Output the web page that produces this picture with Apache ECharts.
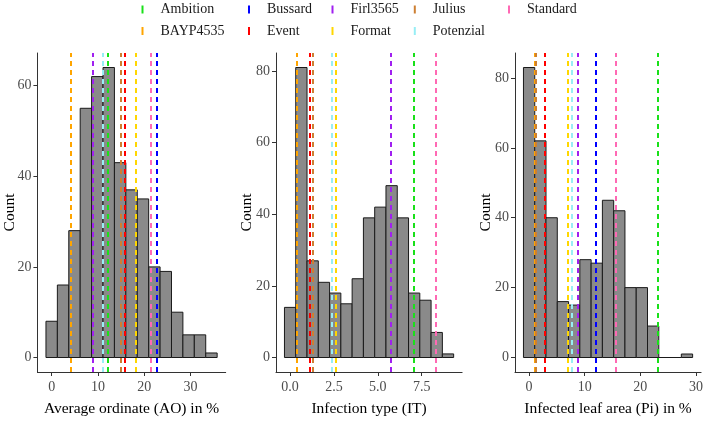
<!DOCTYPE html>
<html>
<head>
<meta charset="utf-8">
<script src="https://cdn.jsdelivr.net/npm/echarts@6/dist/echarts.min.js"></script>
<style>
html,body{margin:0;padding:0;background:#fff;}
#chart{width:706px;height:422px;}
</style>
</head>
<body>
<div id="chart"></div>
<script>
// ---- Data ----
const genotypes = ['Ambition','BAYP4535','Bussard','Event','Firl3565','Format','Julius','Potenzial','Standard'];
const genotypeColors = ['#19e019','#ffa500','#0000ff','#ff0000','#a020f0','#ffd700','#cd7f32','#97eef5','#ff69b4'];

// Panel 1: Average ordinate (AO) in %
const aoCenters = [0, 2.464, 4.929, 7.393, 9.857, 12.321, 14.786, 17.25, 19.714, 22.179, 24.643, 27.107, 29.571, 32.036, 34.5];
const aoCounts  = [8, 16, 28, 55, 62, 64, 43, 37, 35, 20, 19, 10, 5, 5, 1];
const aoBinWidth = 2.464;
const aoMeans = [12.1, 4.2, 22.7, 15.7, 8.8, 18.2, 14.9, 11.0, 21.3];
const aoTicks = [0, 10, 20, 30];

// Panel 2: Infection type (IT)
const itCenters = [0, 0.643, 1.286, 1.929, 2.571, 3.214, 3.857, 4.5, 5.143, 5.786, 6.429, 7.071, 7.714, 8.357, 9];
const itCounts  = [14, 81, 27, 21, 18, 15, 22, 39, 42, 48, 39, 18, 16, 7, 1];
const itBinWidth = 0.643;
const itMeans = [7.05, 0.38, 5.74, 1.14, 5.72, 2.6, 1.29, 2.39, 8.3];
const itTicks = [0, 2.5, 5, 7.5];

// Panel 3: Infected leaf area (Pi) in %
const piCenters = [0, 2.027, 4.054, 6.081, 8.108, 10.135, 12.162, 14.189, 16.216, 18.243, 20.27, 22.297, 24.324, 26.351, 28.378];
const piCounts  = [83, 62, 40, 16, 15, 28, 27, 45, 42, 20, 20, 9, 0, 0, 1];
const piBinWidth = 2.027;
const piMeans = [23.1, 1.05, 11.9, 2.9, 8.66, 7.0, 1.2, 7.6, 15.5];
const piTicks = [0, 10, 20, 30];

const countTicks1 = [0, 20, 40, 60];
const countTicks2 = [0, 20, 40, 60, 80];
const countTicks3 = [0, 20, 40, 60, 80];

const xTitles = ['Average ordinate (AO) in %', 'Infection type (IT)', 'Infected leaf area (Pi) in %'];

// ---- Layout ----
const FONT = 'Liberation Serif, Times New Roman, serif';
const panels = [
  {centers: aoCenters, counts: aoCounts, bw: aoBinWidth, means: aoMeans, xt: aoTicks, yt: countTicks1, left: 37.4, width: 188.3, dec: 0, ng: 19},
  {centers: itCenters, counts: itCounts, bw: itBinWidth, means: itMeans, xt: itTicks, yt: countTicks2, left: 276, width: 186.1, dec: 1, ng: 21},
  {centers: piCenters, counts: piCounts, bw: piBinWidth, means: piMeans, xt: piTicks, yt: countTicks3, left: 515, width: 188, dec: 0, ng: 21}
];
const TOP = 53, HEIGHT = 324;

const grids = [], xAxes = [], yAxes = [], series = [];
panels.forEach((p, i) => {
  const lo = p.centers[0] - p.bw / 2, hi = p.centers[p.centers.length - 1] + p.bw / 2;
  const ex = (hi - lo) * 0.05;
  const ymax = Math.max(...p.counts);
  grids.push({left: p.left, top: TOP, width: p.width, height: HEIGHT});
  xAxes.push({
    type: 'value', gridIndex: i, min: lo - ex, max: hi + ex,
    name: xTitles[i], nameLocation: 'middle', nameGap: 29,
    nameTextStyle: {fontFamily: FONT, fontSize: 15.5, color: '#000'},
    splitLine: {show: false},
    axisLine: {show: true, onZero: false, lineStyle: {color: '#333', width: 1}},
    axisTick: {show: true, length: 4, customValues: p.xt, lineStyle: {color: '#333'}},
    axisLabel: {customValues: p.xt, fontFamily: FONT, fontSize: 14, color: '#4d4d4d', margin: 8,
      formatter: v => v.toFixed(p.dec)}
  });
  yAxes.push({
    type: 'value', gridIndex: i, min: -ymax * 0.05, max: ymax * 1.05,
    name: 'Count', nameLocation: 'middle', nameGap: p.ng, nameRotate: 90, nameMoveOverlap: false,
    nameTextStyle: {fontFamily: FONT, fontSize: 15.5, color: '#000'},
    splitLine: {show: false},
    axisLine: {show: true, onZero: false, lineStyle: {color: '#333', width: 1}},
    axisTick: {show: true, length: 4, customValues: p.yt, lineStyle: {color: '#333'}},
    axisLabel: {customValues: p.yt, fontFamily: FONT, fontSize: 14, color: '#4d4d4d', margin: 6}
  });
  const bw = p.bw;
  series.push({
    type: 'custom', xAxisIndex: i, yAxisIndex: i, silent: true, z: 1,
    data: p.centers.map((c, k) => [c, p.counts[k]]),
    renderItem: (params, api) => {
      const c = api.value(0), v = api.value(1);
      const a = api.coord([c - bw / 2, v]);
      const b = api.coord([c + bw / 2, 0]);
      return {type: 'rect', shape: {x: a[0], y: a[1], width: b[0] - a[0], height: b[1] - a[1]},
        style: {fill: '#8a8a8a', stroke: '#1a1a1a', lineWidth: 1}};
    }
  });
  genotypes.forEach((g, k) => {
    series.push({
      name: g, type: 'line', xAxisIndex: i, yAxisIndex: i, data: [], z: 3,
      color: genotypeColors[k], itemStyle: {color: genotypeColors[k]},
      markLine: {
        silent: true, symbol: ['none', 'none'], animation: false,
        label: {show: false},
        lineStyle: {color: genotypeColors[k], type: [5, 4], width: 2},
        data: [{xAxis: p.means[k]}]
      }
    });
  });
});

// Legend in 5 columns (filled by column)
const legendCols = [['Ambition','BAYP4535'], ['Bussard','Event'], ['Firl3565','Format'], ['Julius','Potenzial'], ['Standard']];
const legendLefts = [141.5, 248, 331.5, 413.8, 508];
const legends = legendCols.map((cols, j) => ({
  orient: 'vertical', left: legendLefts[j], top: 2.5, padding: 0,
  itemGap: 7.5, itemWidth: 26, itemHeight: 8,
  icon: 'path://M0,0h2v8h-2z', data: cols, selectedMode: false,
  textStyle: {fontFamily: FONT, fontSize: 14, color: '#1a1a1a', lineHeight: 14}
}));

const chart = echarts.init(document.getElementById('chart'), null, {renderer: 'canvas'});
chart.setOption({
  animation: false,
  backgroundColor: '#fff',
  legend: legends,
  grid: grids, xAxis: xAxes, yAxis: yAxes, series: series
});
</script>
</body>
</html>
